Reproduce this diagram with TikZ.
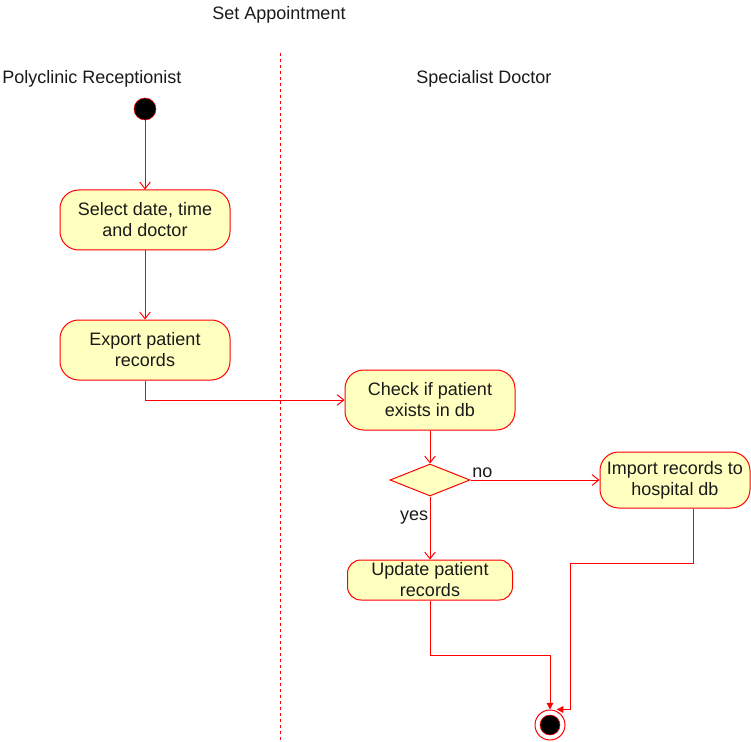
\documentclass[tikz,border=0pt]{standalone}
\usepackage{fontspec}
\setmainfont{Liberation Sans}
\usepackage{xcolor}
\usetikzlibrary{arrows.meta, positioning, shapes.geometric}

\definecolor{actfill}{HTML}{FFFFC0}
\definecolor{actline}{HTML}{FF0000}
\definecolor{txt}{HTML}{1A1A1A}

\begin{document}
\begin{tikzpicture}[x=0.75pt, y=-0.75pt,
    every node/.style={font=\fontsize{13.5}{15.75}\selectfont, text=txt},
    act/.style={draw=actline, fill=actfill, rounded corners=14pt, align=center,
        minimum width=127.5pt, minimum height=45pt, inner sep=2pt, line width=0.75pt},
    decide/.style={diamond, draw=actline, fill=actfill, inner sep=0pt,
        minimum width=60pt, minimum height=24pt, line width=0.75pt},
    flow/.style={draw=actline, line width=0.75pt, -{Straight Barb[length=5pt,width=8pt]}},
    flowend/.style={draw=actline, line width=0.75pt, -{Triangle[length=5pt,width=5pt]}}]
    \useasboundingbox (0,0) rectangle (751,742);

    % Title and lanes
    \node (title) at (279,15) {Set Appointment};
    \node[anchor=west, inner sep=0pt] (lanerec) at (2,79) {Polyclinic Receptionist};
    \node (lanedoc) at (484,79) {Specialist Doctor};
    \draw[actline, line width=0.75pt, dash pattern=on 2.25pt off 2.25pt] (280,53) -- (280,742);

    % Receptionist
    \node[circle, draw=actline, fill=black, minimum size=16.5pt, inner sep=0pt] (start) at (145,109) {};
    \node[act] (select) at (145,220) {Select date, time\\and doctor};
    \node[act] (export) at (145,350) {Export patient\\records};

    % Doctor
    \node[act] (check) at (430,400) {Check if patient\\exists in db};
    \node[decide] (exists) at (430,480) {};
    \node[act, minimum width=112.5pt, minimum height=42pt] (import) at (675,480) {Import records to\\hospital db};
    \node[act, minimum width=123.75pt, minimum height=30pt, rounded corners=10pt] (update) at (430,580) {Update patient\\records};

    % End
    \node[circle, draw=actline, minimum size=22.5pt, inner sep=0pt, line width=0.75pt] (finish) at (550,725) {};
    \node[circle, draw=actline, fill=black, minimum size=15pt, inner sep=0pt] (finishin) at (finish) {};

    % Flows
    \draw[flow] (start) -- (select);
    \draw[flow] (select) -- (export);
    \draw[flow] (export.south) |- (check.west);
    \draw[flow] (check) -- (exists);
    \draw[flow] (exists.east) -- node[at start, anchor=south west, inner sep=1pt] {no} (import.west);
    \draw[flow] (exists.south) -- node[pos=0.33, left, inner sep=1pt] {yes} (update.north);

    \coordinate (bend1) at (550,655);
    \coordinate (bend2) at (693,563);
    \coordinate (bend3) at (570,563);
    \draw[flowend] (update.south) |- (bend1) -- (finish.north);
    \draw[flowend] (import.south -| bend2) -- (bend2) -- (bend3) |- ([xshift=5pt]finish.north);
\end{tikzpicture}
\end{document}
